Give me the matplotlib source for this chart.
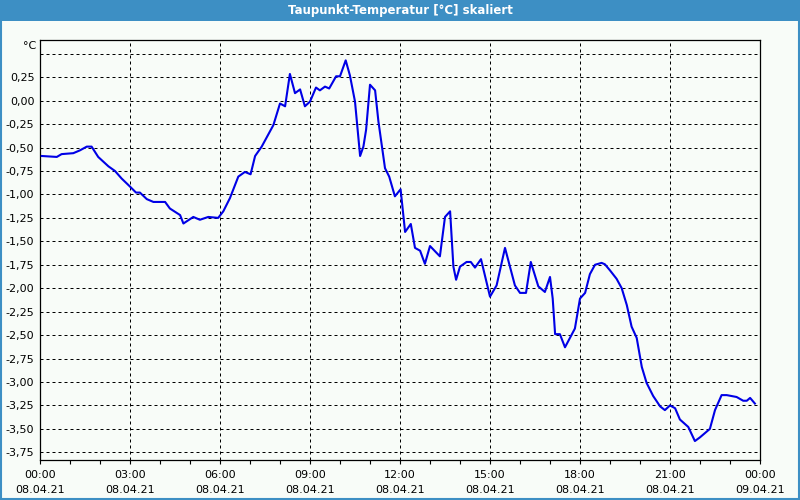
import matplotlib
matplotlib.use("Agg")
import matplotlib.pyplot as plt
from matplotlib.patches import Rectangle

# Stunden seit 08.04.21 00:00 und Taupunkt in °C
stunden = [0.06, 0.56, 0.72, 1.11, 1.33, 1.56, 1.72, 1.94, 2.28, 2.5, 2.72, 2.98,
           3.2, 3.33, 3.56, 3.78, 4.17, 4.33, 4.67, 4.78, 5.11, 5.33, 5.61, 5.94,
           6.11, 6.33, 6.61, 6.83, 7.02, 7.17, 7.39, 7.78, 8.0, 8.17, 8.33, 8.5,
           8.67, 8.83, 9.0, 9.2, 9.33, 9.5, 9.64, 9.87, 10.0, 10.19, 10.33, 10.5,
           10.67, 10.78, 10.87, 11.0, 11.17, 11.28, 11.5, 11.64, 11.83, 12.02,
           12.17, 12.36, 12.5, 12.67, 12.83, 13.0, 13.33, 13.5, 13.67, 13.78,
           13.87, 14.0, 14.22, 14.36, 14.5, 14.7, 15.0, 15.22, 15.5, 15.83, 16.0,
           16.2, 16.36, 16.61, 16.83, 17.0, 17.09, 17.17, 17.33, 17.5, 17.83,
           18.0, 18.17, 18.33, 18.5, 18.72, 18.83, 19.0, 19.22, 19.39, 19.56,
           19.72, 19.89, 20.06, 20.22, 20.44, 20.67, 20.83, 21.0, 21.17, 21.33,
           21.61, 21.83, 22.0, 22.33, 22.5, 22.72, 22.89, 23.22, 23.44, 23.56,
           23.67, 23.83]
taupunkt = [-0.59, -0.60, -0.57, -0.56, -0.53, -0.49, -0.49, -0.60, -0.70, -0.75,
            -0.83, -0.91, -0.98, -0.98, -1.05, -1.08, -1.08, -1.15, -1.22, -1.31,
            -1.24, -1.27, -1.24, -1.25, -1.18, -1.04, -0.81, -0.76, -0.785, -0.59,
            -0.49, -0.26, -0.03, -0.06, 0.285, 0.08, 0.12, -0.06, -0.01, 0.14,
            0.11, 0.15, 0.13, 0.26, 0.26, 0.43, 0.27, -0.01, -0.59, -0.49, -0.31,
            0.17, 0.11, -0.22, -0.72, -0.81, -1.02, -0.945, -1.40, -1.315, -1.57,
            -1.60, -1.74, -1.55, -1.66, -1.24, -1.18, -1.77, -1.91, -1.77, -1.72,
            -1.72, -1.78, -1.69, -2.09, -1.97, -1.57, -1.97, -2.05, -2.05, -1.72,
            -1.98, -2.04, -1.88, -2.11, -2.49, -2.49, -2.63, -2.43, -2.11, -2.05,
            -1.85, -1.75, -1.73, -1.745, -1.81, -1.90, -2.0, -2.18, -2.41, -2.53,
            -2.84, -3.01, -3.15, -3.26, -3.30, -3.25, -3.28, -3.40, -3.48, -3.63,
            -3.59, -3.50, -3.30, -3.14, -3.14, -3.16, -3.20, -3.20, -3.17, -3.23]

x_ticks = [0, 3, 6, 9, 12, 15, 18, 21, 24]
x_labels = ["00:00\n08.04.21", "03:00\n08.04.21", "06:00\n08.04.21",
            "09:00\n08.04.21", "12:00\n08.04.21", "15:00\n08.04.21",
            "18:00\n08.04.21", "21:00\n08.04.21", "00:00\n09.04.21"]
y_ticks = [-3.75, -3.5, -3.25, -3.0, -2.75, -2.5, -2.25, -2.0, -1.75, -1.5,
           -1.25, -1.0, -0.75, -0.5, -0.25, 0.0, 0.25, 0.5]
titel = "Taupunkt-Temperatur [°C] skaliert"

bg = "#f8fcf8"
blau = "#3d8fc4"

fig = plt.figure(figsize=(8, 5), dpi=100, facecolor=bg)

# Titelleiste und Rahmen
fig.patches.append(Rectangle((0, 1 - 21 / 500), 1, 21 / 500, transform=fig.transFigure,
                             facecolor=blau, edgecolor="none", zorder=0))
fig.patches.append(Rectangle((0.001, 0.002), 0.998, 0.99, transform=fig.transFigure,
                             facecolor="none", edgecolor=blau, lw=1.5, zorder=0))
fig.text(0.5, 1 - 10.5 / 500, titel, color="white", fontsize=8.5, fontweight="bold",
         ha="center", va="center")

ax = fig.add_axes([40 / 800, 40 / 500, 720 / 800, 420 / 500])
ax.set_facecolor(bg)
ax.plot(stunden, taupunkt, color="#0000e6", lw=1.5, zorder=3)

ax.set_xlim(0, 24)
ax.set_ylim(-3.832, 0.647)

ax.set_xticks(x_ticks)
ax.set_xticklabels(x_labels, fontsize=8, linespacing=1.6)
ax.set_xticks(range(25), minor=True)
ax.tick_params(axis="x", which="both", direction="out", length=3, width=0.8, pad=4)

ax.set_yticks(y_ticks)
ax.set_yticklabels([("%.2f" % v).replace(".", ",") if v < 0.4 else "" for v in y_ticks],
                   fontsize=8)
ax.tick_params(axis="y", length=0, pad=4)

ax.grid(True, which="major", color="black", linestyle=(0, (3, 3)), lw=0.72)
for s in ax.spines.values():
    s.set_linewidth(0.9)

fig.text(36 / 800, 1 - 46 / 500, "°C", fontsize=8, ha="right", va="center")

fig.savefig("out.png", dpi=100, facecolor=bg)
